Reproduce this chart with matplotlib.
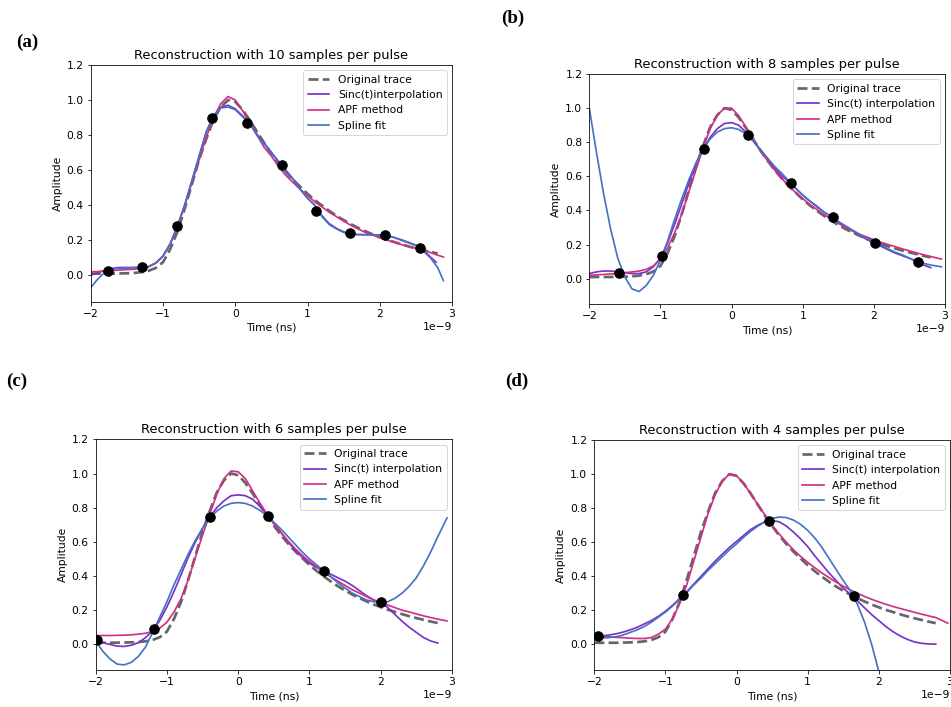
import numpy as np
import matplotlib
matplotlib.use("Agg")
import matplotlib.pyplot as plt

t = np.round(np.arange(-2.0, 2.81, 0.1), 1)

# original trace, same in all four panels
orig = [0.010, 0.010, 0.010, 0.010, 0.011, 0.012, 0.014, 0.018, 0.026, 0.042,
        0.075, 0.150, 0.250, 0.380, 0.520, 0.660, 0.780, 0.890, 0.960, 1.000,
        0.990, 0.945, 0.885, 0.820, 0.755, 0.695, 0.640, 0.590, 0.545, 0.505,
        0.465, 0.430, 0.398, 0.368, 0.340, 0.315, 0.292, 0.271, 0.252, 0.234,
        0.218, 0.203, 0.190, 0.177, 0.165, 0.154, 0.144, 0.134, 0.125]

# ---- (a) 10 samples ----
samp_a_t = [-1.765, -1.285, -0.80, -0.316, 0.163, 0.648, 1.123, 1.593, 2.073, 2.562]
samp_a_y = [0.023, 0.046, 0.282, 0.895, 0.870, 0.631, 0.370, 0.240, 0.229, 0.155]
sinc_a = [0.000, 0.015, 0.030, 0.040, 0.045, 0.045, 0.045, 0.045, 0.050, 0.070,
          0.110, 0.180, 0.280, 0.400, 0.540, 0.680, 0.820, 0.910, 0.960, 0.970,
          0.950, 0.910, 0.870, 0.805, 0.755, 0.700, 0.650, 0.600, 0.550, 0.490,
          0.440, 0.400, 0.340, 0.295, 0.268, 0.248, 0.237, 0.233, 0.232, 0.231,
          0.230, 0.226, 0.216, 0.203, 0.188, 0.172, 0.145, 0.105, 0.075]
sinc_a_end = 2.78
apf_a = [0.020, 0.022, 0.025, 0.028, 0.030, 0.033, 0.035, 0.040, 0.050, 0.070,
         0.110, 0.180, 0.280, 0.400, 0.530, 0.660, 0.790, 0.900, 0.980, 1.020,
         1.000, 0.940, 0.870, 0.800, 0.730, 0.680, 0.620, 0.570, 0.530, 0.490,
         0.455, 0.420, 0.390, 0.360, 0.335, 0.310, 0.285, 0.265, 0.245, 0.230,
         0.215, 0.200, 0.190, 0.175, 0.165, 0.155, 0.145, 0.130, 0.115, 0.105]
spline_a = [-0.070, -0.020, 0.020, 0.035, 0.040, 0.042, 0.044, 0.045, 0.050, 0.070,
            0.110, 0.180, 0.280, 0.400, 0.540, 0.680, 0.820, 0.910, 0.955, 0.960,
            0.945, 0.905, 0.865, 0.800, 0.750, 0.700, 0.645, 0.595, 0.550, 0.490,
            0.440, 0.400, 0.335, 0.290, 0.265, 0.245, 0.235, 0.232, 0.232, 0.231,
            0.230, 0.225, 0.215, 0.200, 0.185, 0.170, 0.140, 0.100, 0.045, -0.030]

# ---- (b) 8 samples ----
samp_b_t = [-1.578, -0.978, -0.388, 0.226, 0.830, 1.425, 2.016, 2.616]
samp_b_y = [0.035, 0.131, 0.758, 0.844, 0.561, 0.360, 0.210, 0.097]
sinc_b = [0.030, 0.040, 0.045, 0.045, 0.040, 0.035, 0.030, 0.030, 0.040, 0.070,
          0.120, 0.210, 0.320, 0.440, 0.560, 0.670, 0.760, 0.830, 0.880, 0.910,
          0.915, 0.900, 0.860, 0.810, 0.755, 0.700, 0.650, 0.605, 0.570, 0.530,
          0.490, 0.455, 0.425, 0.390, 0.365, 0.335, 0.305, 0.280, 0.255, 0.230,
          0.210, 0.190, 0.170, 0.150, 0.135, 0.120, 0.100, 0.080, 0.065]
sinc_b_end = 2.80
apf_b = [0.020, 0.022, 0.025, 0.028, 0.030, 0.035, 0.040, 0.045, 0.055, 0.075,
         0.115, 0.180, 0.270, 0.380, 0.510, 0.640, 0.770, 0.880, 0.960, 1.000,
         1.000, 0.955, 0.890, 0.820, 0.755, 0.695, 0.640, 0.590, 0.545, 0.505,
         0.470, 0.435, 0.405, 0.375, 0.350, 0.325, 0.300, 0.280, 0.260, 0.245,
         0.228, 0.213, 0.200, 0.188, 0.175, 0.163, 0.152, 0.140, 0.130, 0.115]
spline_b = [1.000, 0.740, 0.500, 0.290, 0.120, 0.010, -0.060, -0.075, -0.040, 0.020,
            0.110, 0.220, 0.350, 0.470, 0.580, 0.680, 0.760, 0.820, 0.860, 0.880,
            0.885, 0.875, 0.850, 0.810, 0.760, 0.710, 0.660, 0.620, 0.575, 0.530,
            0.490, 0.455, 0.420, 0.390, 0.365, 0.335, 0.310, 0.285, 0.260, 0.235,
            0.215, 0.195, 0.175, 0.155, 0.140, 0.120, 0.105, 0.090, 0.080, 0.070]

# ---- (c) 6 samples ----
samp_c_t = [-1.986, -1.181, -0.396, 0.413, 1.204, 2.004]
samp_c_y = [0.025, 0.088, 0.745, 0.753, 0.431, 0.248]
sinc_c = [0.020, 0.010, 0.000, -0.010, -0.012, -0.005, 0.010, 0.040, 0.080, 0.140,
          0.220, 0.310, 0.410, 0.510, 0.600, 0.680, 0.745, 0.800, 0.840, 0.870,
          0.875, 0.870, 0.850, 0.810, 0.760, 0.710, 0.655, 0.600, 0.550, 0.510,
          0.475, 0.450, 0.430, 0.410, 0.390, 0.370, 0.345, 0.315, 0.285, 0.260,
          0.245, 0.215, 0.175, 0.135, 0.100, 0.070, 0.040, 0.020, 0.008]
sinc_c_end = 2.80
apf_c = [0.052, 0.052, 0.052, 0.053, 0.054, 0.056, 0.060, 0.065, 0.075, 0.095,
         0.130, 0.190, 0.270, 0.380, 0.510, 0.640, 0.760, 0.880, 0.970, 1.015,
         1.010, 0.970, 0.900, 0.830, 0.765, 0.705, 0.655, 0.605, 0.560, 0.520,
         0.485, 0.455, 0.425, 0.395, 0.370, 0.345, 0.320, 0.300, 0.280, 0.260,
         0.245, 0.230, 0.215, 0.200, 0.190, 0.178, 0.167, 0.157, 0.148, 0.137]
spline_c = [0.020, -0.040, -0.085, -0.115, -0.120, -0.105, -0.070, -0.015, 0.070, 0.160,
            0.250, 0.350, 0.440, 0.530, 0.610, 0.680, 0.740, 0.780, 0.810, 0.825,
            0.830, 0.825, 0.810, 0.785, 0.755, 0.715, 0.675, 0.630, 0.585, 0.540,
            0.500, 0.465, 0.430, 0.395, 0.360, 0.330, 0.300, 0.280, 0.260, 0.250,
            0.245, 0.250, 0.270, 0.300, 0.340, 0.390, 0.460, 0.540, 0.630, 0.740]

# ---- (d) 4 samples ----
samp_d_t = [-1.948, -0.753, 0.451, 1.646]
samp_d_y = [0.051, 0.290, 0.726, 0.284]
sinc_d = [0.048, 0.050, 0.055, 0.062, 0.072, 0.085, 0.100, 0.120, 0.140, 0.165,
          0.195, 0.230, 0.270, 0.310, 0.355, 0.400, 0.445, 0.490, 0.530, 0.570,
          0.605, 0.640, 0.675, 0.700, 0.720, 0.728, 0.720, 0.695, 0.660, 0.620,
          0.575, 0.520, 0.470, 0.420, 0.375, 0.330, 0.295, 0.255, 0.215, 0.175,
          0.140, 0.105, 0.075, 0.050, 0.030, 0.015, 0.007, 0.003, 0.002]
sinc_d_end = 2.80
apf_d = [0.053, 0.049, 0.045, 0.042, 0.040, 0.037, 0.035, 0.035, 0.040, 0.060,
         0.090, 0.150, 0.240, 0.350, 0.490, 0.630, 0.770, 0.880, 0.960, 1.000,
         0.990, 0.945, 0.885, 0.820, 0.760, 0.700, 0.648, 0.600, 0.556, 0.517,
         0.482, 0.450, 0.420, 0.392, 0.366, 0.342, 0.320, 0.300, 0.282, 0.265,
         0.250, 0.236, 0.223, 0.211, 0.200, 0.189, 0.178, 0.168, 0.158, 0.125]
spline_d = [0.040, 0.038, 0.040, 0.045, 0.055, 0.070, 0.085, 0.105, 0.130, 0.160,
            0.190, 0.225, 0.265, 0.305, 0.350, 0.390, 0.435, 0.475, 0.515, 0.555,
            0.590, 0.630, 0.665, 0.695, 0.720, 0.740, 0.748, 0.745, 0.730, 0.705,
            0.670, 0.625, 0.570, 0.505, 0.440, 0.375, 0.315, 0.235, 0.130, 0.000,
            -0.160, -0.340]

tail_end = [2.88, 2.95, 2.93, 2.97]
n_samples = [10, 8, 6, 4]
panel_tags = ["(a)", "(b)", "(c)", "(d)"]
sinc_labels = ["Sinc(t)interpolation", "Sinc(t) interpolation",
               "Sinc(t) interpolation", "Sinc(t) interpolation"]

panels = [
    (samp_a_t, samp_a_y, sinc_a, sinc_a_end, apf_a, spline_a),
    (samp_b_t, samp_b_y, sinc_b, sinc_b_end, apf_b, spline_b),
    (samp_c_t, samp_c_y, sinc_c, sinc_c_end, apf_c, spline_c),
    (samp_d_t, samp_d_y, sinc_d, sinc_d_end, apf_d, spline_d),
]

# axes boxes in figure fractions (left, bottom, width, height), screenshot is a collage
boxes = [
    (0.0954, 0.5733, 0.3800, 0.3348),
    (0.6197, 0.5696, 0.3740, 0.3257),
    (0.1006, 0.0523, 0.3747, 0.3263),
    (0.6249, 0.0523, 0.3740, 0.3253),
]
tag_pos = [(27, 42), (513, 18), (17, 381), (517, 381)]

c_orig = "#666666"
c_sinc = "#7a2fc8"
c_apf = "#d12f86"
c_spline = "#4472c4"

W, H = 951, 707
fs = 10.8
fig = plt.figure(figsize=(W / 72, H / 72), dpi=72)

for i, (st, sy, sinc, s_end, apf, spl) in enumerate(panels):
    ax = fig.add_axes(boxes[i])
    tt = list(t)
    t_sinc = tt[:-1] + [s_end]
    t_tail = tt + [tail_end[i]]
    t_spl = t_tail if len(spl) == len(t_tail) else tt[:len(spl)]

    ax.plot(np.array(tt) * 1e-9, orig, "--", color=c_orig, lw=2.7, label="Original trace")
    ax.plot(np.array(t_sinc) * 1e-9, sinc, color=c_sinc, lw=1.7, label=sinc_labels[i])
    ax.plot(np.array(t_tail) * 1e-9, apf, color=c_apf, lw=1.7, label="APF method")
    ax.plot(np.array(t_spl) * 1e-9, spl, color=c_spline, lw=1.7, label="Spline fit")
    ax.plot(np.array(st) * 1e-9, sy, "o", color="black", ms=9.5)

    ax.set_xlim(-2e-9, 3e-9)
    ax.set_ylim(-0.15, 1.2)
    ax.set_yticks([0.0, 0.2, 0.4, 0.6, 0.8, 1.0, 1.2])
    ax.tick_params(labelsize=fs)
    ax.xaxis.get_offset_text().set_fontsize(fs)
    ax.set_title(f"Reconstruction with {n_samples[i]} samples per pulse", fontsize=13)
    ax.set_xlabel("Time (ns)", fontsize=fs)
    ax.set_ylabel("Amplitude", fontsize=fs)
    ax.legend(loc="upper right", fontsize=fs)

    px, py = tag_pos[i]
    fig.text(px / W, 1 - py / H, panel_tags[i], ha="center", va="center",
             fontsize=19, fontweight="bold", family="Liberation Serif")

fig.savefig("out.png", dpi=72)
